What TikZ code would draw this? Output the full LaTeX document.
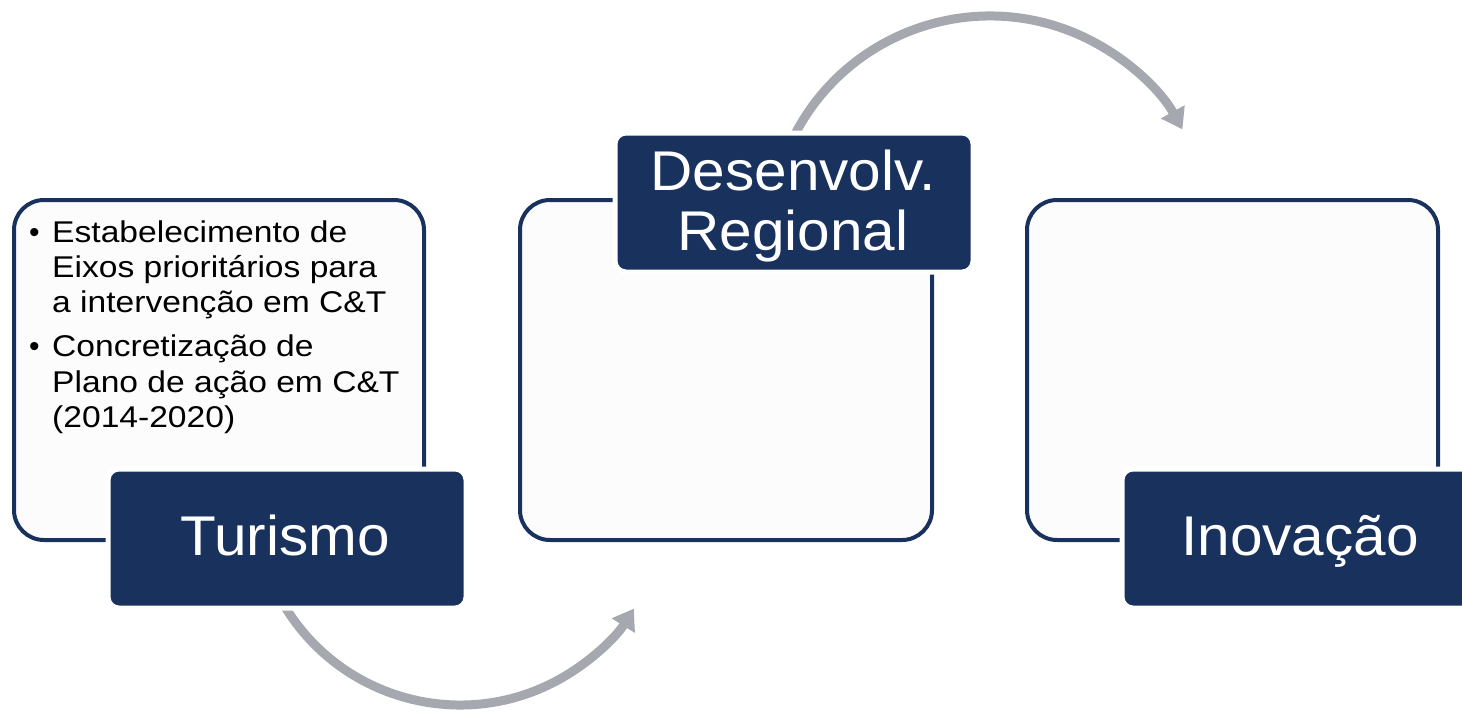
\documentclass[tikz,border=0pt]{standalone}
\usepackage{fontspec}
\setmainfont{Liberation Sans}
\usetikzlibrary{arrows.meta}
\definecolor{navy}{RGB}{24,49,93}
\definecolor{boxfill}{RGB}{252,252,253}
\definecolor{arrowgray}{RGB}{166,168,176}
\newcommand{\wideb}[1]{\scalebox{1.12}[1]{#1}}
\newcommand{\widel}[1]{\scalebox{1.045}[1]{#1}}
\tikzset{
  outerbox/.style={draw=navy, line width=4pt, fill=boxfill, rounded corners=30pt, inner sep=0pt},
  labelbox/.style={fill=navy, draw=white, line width=5pt, rounded corners=11pt, inner sep=0pt},
  labeltext/.style={text=white, font=\fontsize{56}{60}\selectfont, inner sep=0pt, align=center},
  bul/.style={anchor=base west, inner sep=0pt, font=\fontsize{30}{35}\selectfont},
  cyclearrow/.style={draw=arrowgray, line width=9pt, -{Triangle[length=20pt,width=26pt]}}
}
\begin{document}
\begin{tikzpicture}[x=1pt,y=-1pt]
\useasboundingbox (0,0) rectangle (1462,715);
\clip (0,0) rectangle (1462,715);
% arrows
\coordinate (cb) at (460,500);
\coordinate (ct) at (990,236);
\draw[cyclearrow] (cb) ++(150:205) arc[start angle=150, end angle=32, radius=205];
\draw[cyclearrow] (ct) ++(206:220) arc[start angle=206, end angle=331, radius=220];
% outline boxes
\node[outerbox, minimum width=410pt, minimum height=340pt] (box1) at (219,370) {};
\node[outerbox, minimum width=412pt, minimum height=340pt] (box2) at (726,370) {};
\node[outerbox, minimum width=411pt, minimum height=340pt] (box3) at (1232.5,370) {};
% bullet text
\node[bul] (l1) at (29,242) {\makebox[23pt][l]{•}\wideb{Estabelecimento de}};
\node[bul] (l2) at (52,277) {\wideb{Eixos prioritários para}};
\node[bul] (l3) at (52,312) {\wideb{a intervenção em C\&T}};
\node[bul] (l4) at (29,356) {\makebox[23pt][l]{•}\wideb{Concretização de}};
\node[bul] (l5) at (52,392) {\wideb{Plano de ação em C\&T}};
\node[bul] (l6) at (52,427) {\wideb{(2014-2020)}};
% label boxes
\node[labelbox, minimum width=358pt, minimum height=139pt] (tur) at (287,538.5) {};
\node[labeltext, anchor=base] (turt) at (285,555) {\widel{Turismo}};
\node[labelbox, minimum width=358pt, minimum height=139pt] (des) at (794,202.5) {};
\node[labeltext, anchor=base] (dest1) at (793,190) {\widel{Desenvolv.}};
\node[labeltext, anchor=base] (dest2) at (793,250) {\widel{Regional}};
\node[labelbox, minimum width=358pt, minimum height=139pt] (ino) at (1301,538.5) {};
\node[labeltext, anchor=base] (inot) at (1300,555) {\widel{Inovação}};
\end{tikzpicture}
\end{document}
